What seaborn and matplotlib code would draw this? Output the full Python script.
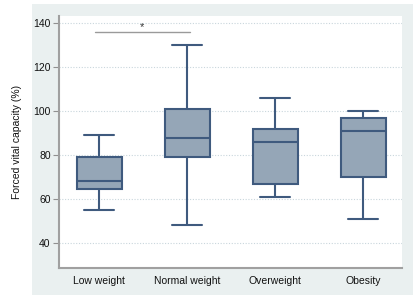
import matplotlib
matplotlib.use("Agg")
import matplotlib.pyplot as plt
import seaborn as sns
import pandas as pd
from matplotlib.patches import Rectangle

# data: five-number summaries (min, q1, median, q3, max)
categories = ["Low weight", "Normal weight", "Overweight", "Obesity"]
low_weight = [55, 64.5, 68, 79, 89]
normal_weight = [48, 79, 87.5, 101, 130]
overweight = [61, 67, 86, 92, 106]
obesity = [51, 70, 91, 97, 100]
yticks = [40, 60, 80, 100, 120, 140]
sig_pair = ("Low weight", "Normal weight")
sig_y = 136
sig_label = "*"

values = [low_weight, normal_weight, overweight, obesity]
df = pd.DataFrame({
    "group": [c for c, v in zip(categories, values) for _ in v],
    "fvc": [x for v in values for x in v],
})

sns.set_style("white")
plt.rcParams["font.family"] = ["Liberation Sans", "DejaVu Sans"]

fig = plt.figure(figsize=(4.14, 2.98), dpi=100, facecolor="white")
bg = Rectangle((32/414, 3/298), 1 - 32/414, 291/298,
               transform=fig.transFigure, facecolor="#eaf0f0",
               edgecolor="none", zorder=-10)
fig.patches.append(bg)
ax = fig.add_axes([59/414, 30/298, 343/414, 252/298])
ax.set_zorder(1)
ax.set_facecolor("white")

fill = "#95a6b7"
edge = "#3f5a7e"
sns.boxplot(data=df, x="group", y="fvc", order=categories, ax=ax,
            whis=(0, 100), width=0.51, color=fill, saturation=1,
            linecolor=edge, linewidth=1.5, capwidths=0.34,
            showfliers=False)

ax.set_xlim(-0.455, 3.44)
ax.set_ylim(28.6, 143.2)
ax.set_yticks(yticks)
ax.set_yticklabels([str(t) for t in yticks])
for t in yticks:
    ax.axhline(t, color="#c9d6dc", lw=0.8, ls=(0, (1, 1.5)), zorder=0)

ax.set_xlabel("")
ax.set_ylabel("Forced vital capacity (%)", fontsize=7.5, color="#111111", labelpad=8)
ax.tick_params(axis="y", length=4, width=0.8, color="#909090", labelsize=7.5,
               labelcolor="#111111", pad=2, left=True)
ax.tick_params(axis="x", length=0, labelsize=7.5, labelcolor="#111111", pad=6)

for s in ["top", "right"]:
    ax.spines[s].set_visible(False)
for s in ["left", "bottom"]:
    ax.spines[s].set_color("#a0a0a0")
    ax.spines[s].set_linewidth(1.5)

i0 = categories.index(sig_pair[0])
i1 = categories.index(sig_pair[1])
ax.plot([i0 - 0.05, i1 + 0.03], [sig_y, sig_y], color="#9a9a9a", lw=1.0)
ax.text((i0 + i1) / 2 - 0.01, sig_y + 2.0, sig_label, ha="center", va="center",
        fontsize=8, color="#333333")

fig.savefig("out.png", dpi=100, facecolor=fig.get_facecolor())
